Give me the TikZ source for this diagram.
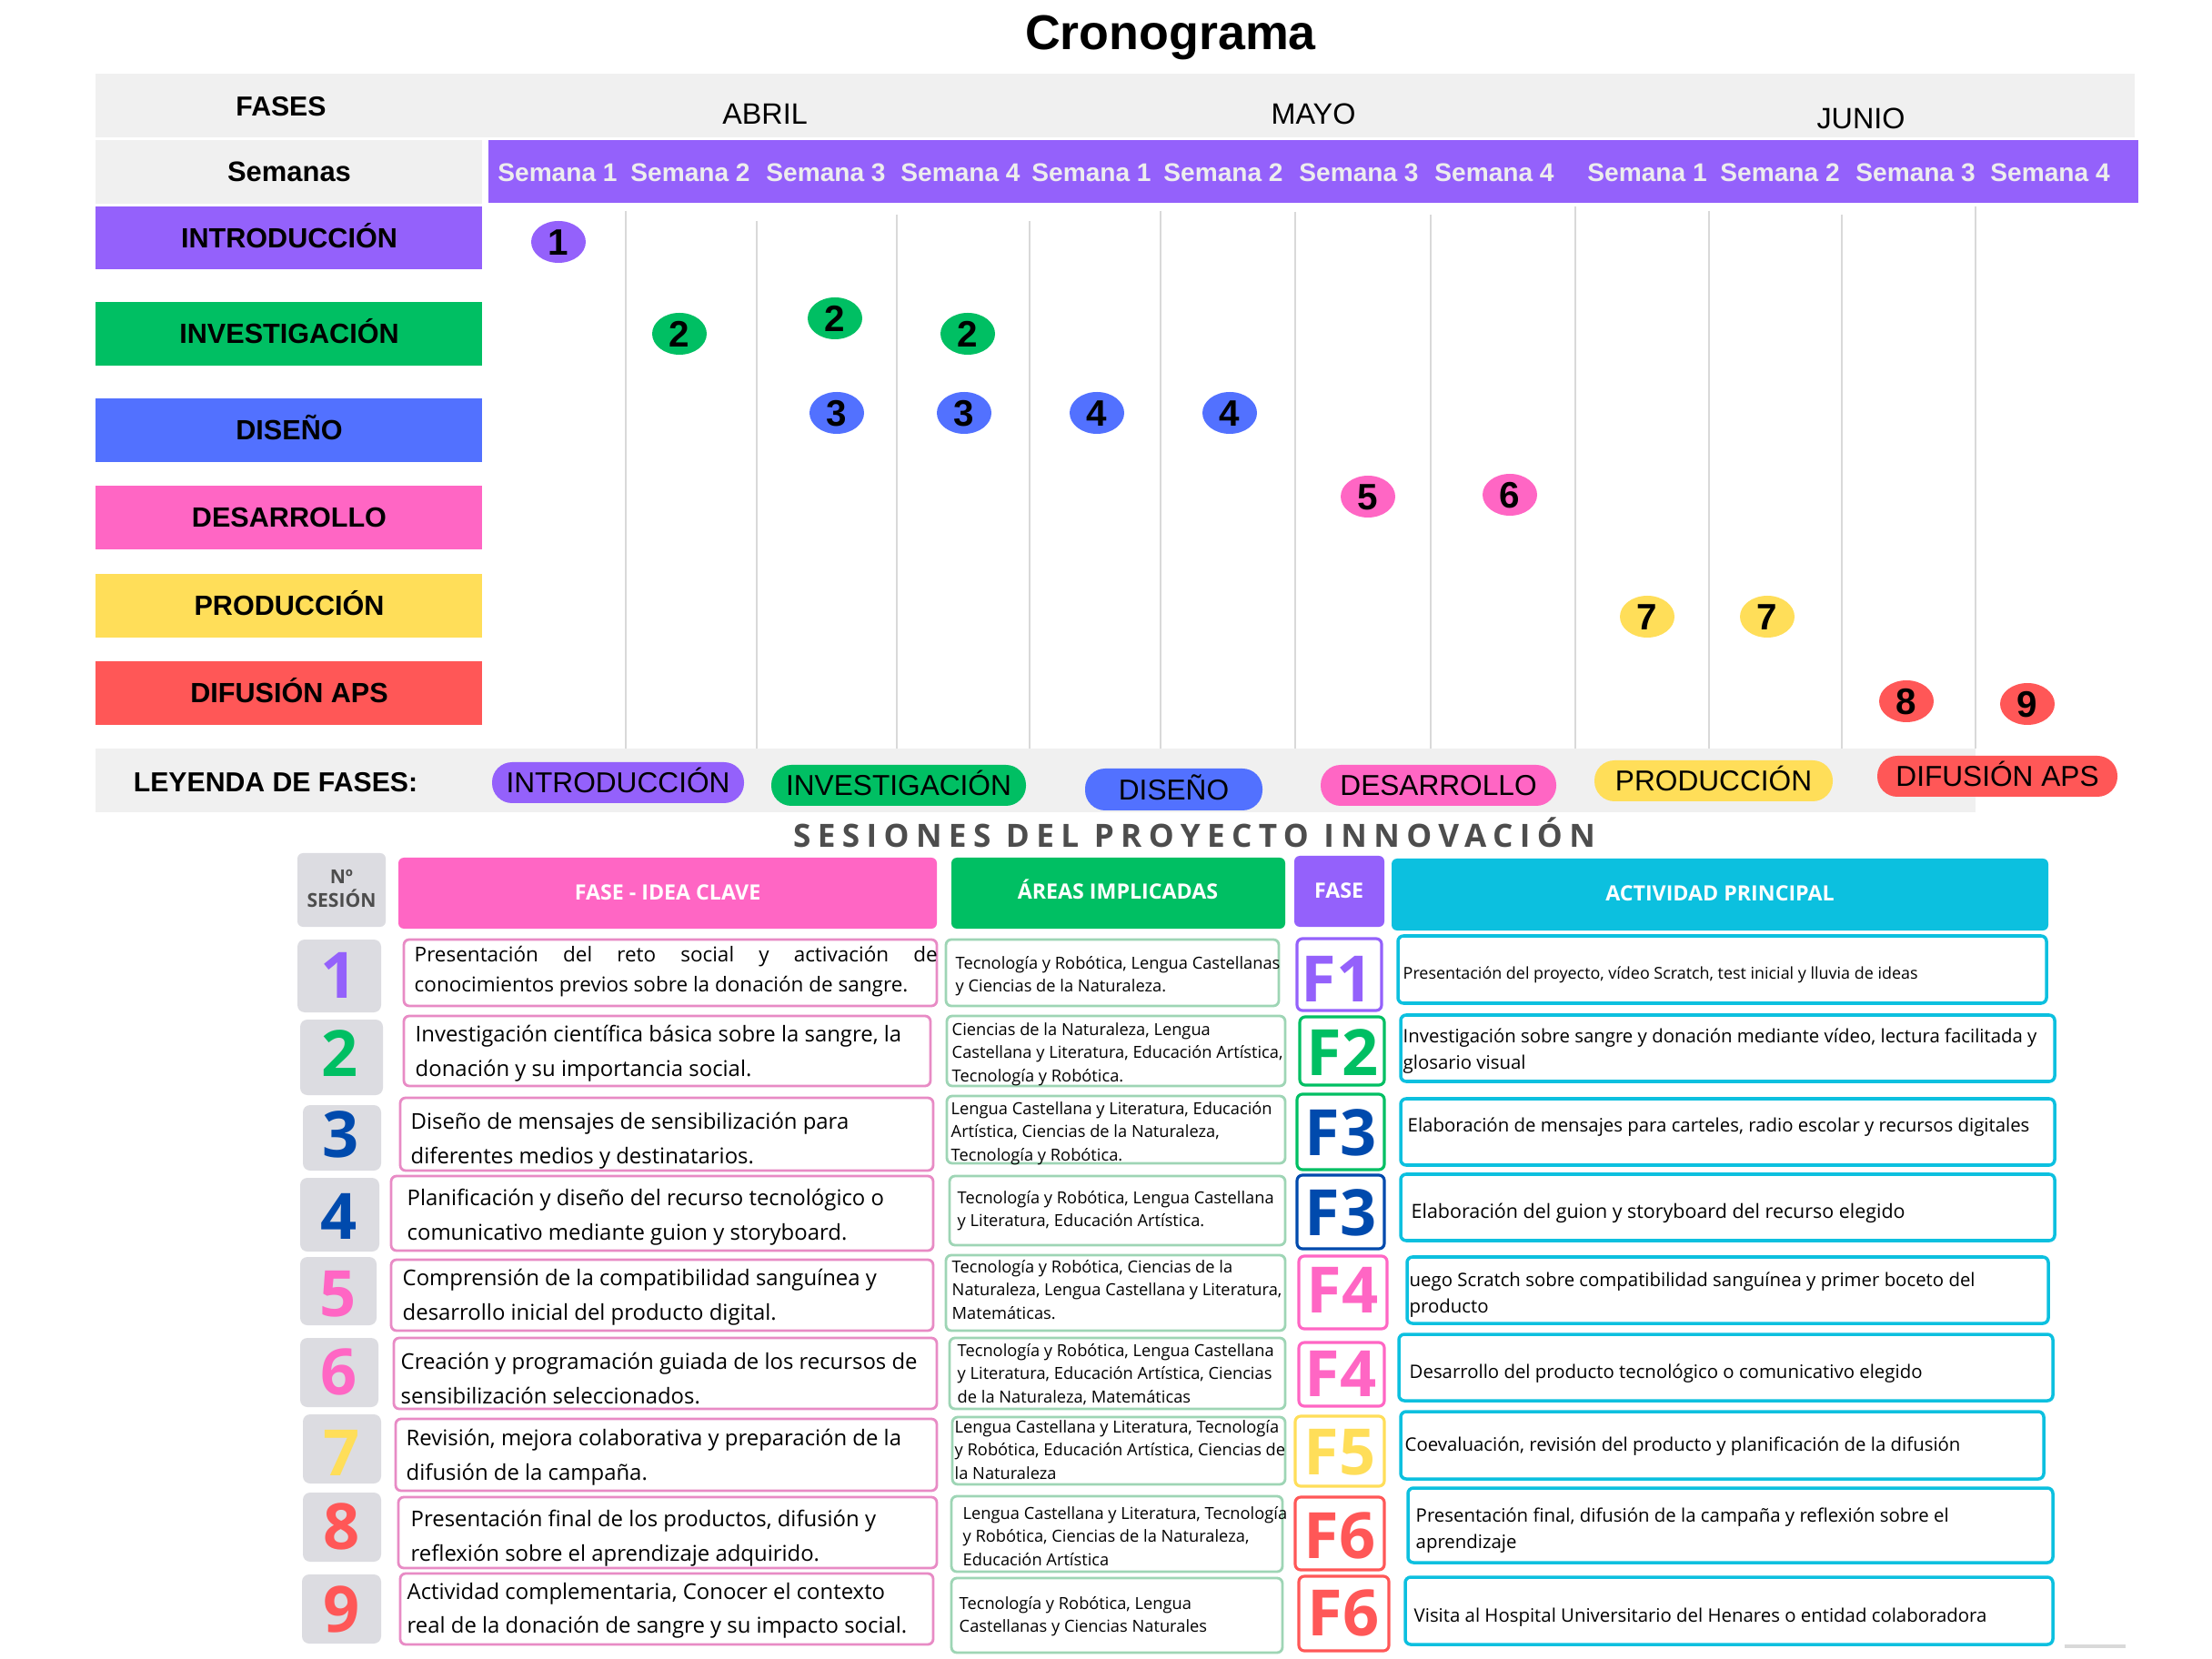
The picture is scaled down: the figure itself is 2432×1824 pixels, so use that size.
\documentclass[tikz,border=0pt]{standalone}
\usepackage{fontspec}
\usepackage{tikz}
\usetikzlibrary{shapes.geometric, positioning}
\newfontfamily\arialfont{Liberation Sans}
\newfontfamily\osfont{Open Sans}
\newfontfamily\osspaced[LetterSpace=21]{Open Sans}
\definecolor{fasepurple}{HTML}{9461FB}
\definecolor{fasegreen}{HTML}{00BF63}
\definecolor{faseblue}{HTML}{5271FF}
\definecolor{fasepink}{HTML}{FF66C4}
\definecolor{faseyellow}{HTML}{FFDE59}
\definecolor{fasered}{HTML}{FF5757}
\definecolor{darkblue}{HTML}{004AAD}
\definecolor{cyanhead}{HTML}{0CC0DF}
\definecolor{bandgray}{HTML}{F0F0F0}
\definecolor{gridgray}{HTML}{D9D9D9}
\definecolor{numgray}{HTML}{DCDCE1}
\definecolor{ideaborder}{HTML}{E88BC5}
\definecolor{areaborder}{HTML}{9ED5B5}
\definecolor{semtext}{HTML}{EDEDED}
\definecolor{titlegray}{HTML}{4D4D4D}
\tikzset{
  bandlabel/.style={font=\arialfont\bfseries\fontsize{8.6}{10}\selectfont, text height=6.2pt, text depth=0pt, inner sep=0pt},
  monthlabel/.style={font=\arialfont\fontsize{9.2}{11}\selectfont, text height=6.6pt, text depth=0pt, inner sep=0pt},
  weeklabel/.style={font=\arialfont\bfseries\fontsize{8}{10}\selectfont, text=semtext, text height=5.7pt, text depth=0pt, inner sep=0pt},
  phaselabel/.style={font=\arialfont\bfseries\fontsize{8.7}{10}\selectfont, text height=6.2pt, text depth=0pt, inner sep=0pt},
  badge/.style={ellipse, minimum width=6mm, minimum height=4.6mm, inner sep=0pt, font=\arialfont\bfseries\fontsize{11.5}{13}\selectfont, text height=8.2pt, text depth=0pt},
  pill/.style={rounded corners=2.2mm},
  pilllabel/.style={font=\arialfont\fontsize{9}{11}\selectfont, text height=6.4pt, text depth=0pt, inner sep=0pt},
  headbox/.style={rounded corners=0.6mm},
  headlabel/.style={font=\osfont\bfseries\fontsize{6.6}{8}\selectfont, text=white, text height=4.7pt, text depth=0pt, inner sep=0pt},
  numbox/.style={fill=numgray, rounded corners=0.8mm},
  numlabel/.style={font=\osfont\bfseries\fontsize{20}{24}\selectfont, text height=14.3pt, text depth=0pt, inner sep=0pt},
  ideabox/.style={draw=ideaborder, line width=0.8pt, fill=white, rounded corners=0.6mm},
  ideatext/.style={font=\osfont\fontsize{6.8}{10.7}\selectfont, align=left, anchor=north west, inner sep=0pt, execute at begin node=\strut},
  areabox/.style={draw=areaborder, line width=0.8pt, fill=white, rounded corners=0.6mm},
  areatext/.style={font=\osfont\fontsize{5.2}{7.25}\selectfont, align=left, anchor=north west, inner sep=0pt, execute at begin node=\strut},
  fasebox/.style={line width=0.9pt, fill=white, rounded corners=0.6mm},
  actbox/.style={draw=cyanhead, line width=1pt, fill=white, rounded corners=0.6mm},
  acttext/.style={font=\osfont\fontsize{5.8}{8.4}\selectfont, align=left, anchor=north west, inner sep=0pt, execute at begin node=\strut},
}

\begin{document}
\begin{tikzpicture}[x=0.1mm, y=-0.1mm]
    \fill[white] (0,0) rectangle (2432,1824);
    \useasboundingbox (0,0) rectangle (2432,1824);
    % Title
    \node[font=\arialfont\bfseries\fontsize{15.3}{18}\selectfont, anchor=base, inner sep=0pt] (titulo) at (1287,55) {Cronograma};
    % Months
    \fill[bandgray] (105,81) rectangle (2347,151);
    \node[bandlabel] (fases) at (309,117) {FASES};
    \node[monthlabel] (abril) at (841,125) {ABRIL};
    \node[monthlabel] (mayo) at (1444,125) {MAYO};
    \node[monthlabel] (junio) at (2046,130) {JUNIO};
    % Weeks
    \fill[bandgray] (105,154) rectangle (530,224);
    \node[bandlabel, font=\arialfont\bfseries\fontsize{8.8}{10}\selectfont] (semanas) at (318,189) {Semanas};
    \fill[fasepurple] (537,154) rectangle (2351,223);
    \foreach \wx/\wn [count=\i] in {613/1, 759/2, 908/3, 1056/4, 1200/1, 1345/2, 1494/3, 1643/4, 1811/1, 1957/2, 2106/3, 2254/4}
        \node[weeklabel] (sem\i) at (\wx,189) {Semana \wn};
    % Grid
    \foreach \gx/\gtop in {688/232, 832/243, 986/236, 1132/243, 1276/232, 1424/233, 1573/236, 1732/227, 1879/232, 2025/236, 2172/227}
        \draw[gridgray, line width=0.6pt] (\gx,\gtop) -- (\gx,823);
    % Phases
    \fill[fasepurple] (105,227) rectangle (530,296);
    \node[phaselabel] (fintro) at (318,262) {INTRODUCCIÓN};
    \fill[fasegreen] (105,332) rectangle (530,402);
    \node[phaselabel] (finves) at (318,367) {INVESTIGACIÓN};
    \fill[faseblue] (105,438) rectangle (530,508);
    \node[phaselabel] (fdiseno) at (318,473) {DISEÑO};
    \fill[fasepink] (105,534) rectangle (530,604);
    \node[phaselabel] (fdesarrollo) at (318,569) {DESARROLLO};
    \fill[faseyellow] (105,631) rectangle (530,701);
    \node[phaselabel] (fproduccion) at (318,666) {PRODUCCIÓN};
    \fill[fasered] (105,727) rectangle (530,797);
    \node[phaselabel] (fdifusion) at (318,762) {DIFUSIÓN APS};
    % Sessions
    \foreach \bx/\by/\bc/\bn [count=\i] in {614/266/fasepurple/1, 747/367/fasegreen/2, 918/350/fasegreen/2, 1064/367/fasegreen/2, 920/454/faseblue/3, 1060/454/faseblue/3, 1206/454/faseblue/4, 1352/454/faseblue/4, 1504/546/fasepink/5, 1660/544/fasepink/6, 1811/678/faseyellow/7, 1943/678/faseyellow/7, 2096/771/fasered/8, 2229/774/fasered/9}
        \node[badge, fill=\bc] (badge\i) at (\bx,\by) {\bn};
    % Legend
    \fill[bandgray] (105,823) rectangle (2172,893);
    \node[bandlabel] (leyenda) at (303,860) {LEYENDA DE FASES:};
    \fill[fasepurple, pill] (541,838) rectangle (818,883);
    \node[pilllabel] (lintro) at (679.5,860.5) {INTRODUCCIÓN};
    \fill[fasegreen, pill] (848,841) rectangle (1128,886);
    \node[pilllabel] (linves) at (988,863.5) {INVESTIGACIÓN};
    \fill[faseblue, pill] (1193,845) rectangle (1388,891);
    \node[pilllabel] (ldiseno) at (1290.5,868) {DISEÑO};
    \fill[fasepink, pill] (1452,841) rectangle (1711,886);
    \node[pilllabel] (ldesarrollo) at (1581.5,863.5) {DESARROLLO};
    \fill[faseyellow, pill] (1753,836) rectangle (2015,881);
    \node[pilllabel] (lproduccion) at (1884,858.5) {PRODUCCIÓN};
    \fill[fasered, pill] (2064,831) rectangle (2328,876);
    \node[pilllabel] (ldifusion) at (2196,853.5) {DIFUSIÓN APS};

    % Table title
    \node[font=\osspaced\bfseries\fontsize{10}{12}\selectfont, text=titlegray, text height=7.1pt, text depth=0pt, inner sep=0pt] (sesiones) at (1313,919) {SESIONES DEL PROYECTO INNOVACIÓN};
    % Header
    \fill[numgray, headbox] (327,938) rectangle (424,1019);
    \node[font=\osfont\bfseries\fontsize{6}{7.4}\selectfont, text=titlegray, align=center, anchor=north, inner sep=0pt, execute at begin node=\strut] (hnum) at (375.5,956) {Nº\\SESIÓN};
    \fill[fasepink, headbox] (438,943) rectangle (1030,1021);
    \node[headlabel] (hidea) at (734,981) {FASE - IDEA CLAVE};
    \fill[fasegreen, headbox] (1046,943) rectangle (1413,1021);
    \node[headlabel] (hareas) at (1229,980) {ÁREAS IMPLICADAS};
    \fill[fasepurple, headbox] (1423,941) rectangle (1522,1019);
    \node[headlabel] (hfase) at (1472,979) {FASE};
    \fill[cyanhead, headbox] (1530,944) rectangle (2252,1023);
    \node[headlabel] (hact) at (1891,982) {ACTIVIDAD PRINCIPAL};

    % Sesion 1
    \fill[numbox] (327,1033) rectangle (419,1113);
    \node[numlabel, text=fasepurple] (n1) at (373,1072) {1};
    \draw[ideabox] (444,1033) rectangle (1030,1106);
    \node[ideatext, font=\osfont\fontsize{6.4}{9.4}\selectfont] (idea1) at (455,1040) {\makebox[57.5mm][s]{Presentación del reto social y activación de}\\conocimientos previos sobre la donación de sangre.};
    \draw[areabox] (1040,1033) rectangle (1406,1106);
    \node[areatext] (area1) at (1050,1050.5) {Tecnología y Robótica, Lengua Castellanas\\y Ciencias de la Naturaleza.};
    \draw[fasebox, draw=fasepurple] (1426,1032) rectangle (1519,1111);
    \node[numlabel, text=fasepurple] (f1) at (1470,1076) {F1};
    \draw[actbox] (1537,1029) rectangle (2250,1103);
    \node[acttext, font=\osfont\fontsize{5.1}{8.25}\selectfont] (act1) at (1542,1055) {Presentación del proyecto, vídeo Scratch, test inicial y lluvia de ideas};

    % Sesion 2
    \fill[numbox] (330,1121) rectangle (421,1204);
    \node[numlabel, text=fasegreen] (n2) at (374,1158) {2};
    \draw[ideabox] (444,1117) rectangle (1023,1194);
    \node[ideatext] (idea2) at (456,1126.5) {Investigación científica básica sobre la sangre, la\\donación y su importancia social.};
    \draw[areabox] (1041,1117) rectangle (1413,1194);
    \node[areatext] (area2) at (1046,1123.5) {Ciencias de la Naturaleza, Lengua\\Castellana y Literatura, Educación Artística,\\Tecnología y Robótica.};
    \draw[fasebox, draw=fasegreen] (1429,1118) rectangle (1522,1193);
    \node[numlabel, text=fasegreen] (f2) at (1476,1157) {F2};
    \draw[actbox] (1540,1116) rectangle (2259,1189);
    \node[acttext] (act2) at (1542,1130) {Investigación sobre sangre y donación mediante vídeo, lectura facilitada y\\glosario visual};

    % Sesion 3
    \fill[numbox] (333,1215) rectangle (419,1287);
    \node[numlabel, text=darkblue] (n3) at (375,1247) {3};
    \draw[ideabox] (440,1207) rectangle (1026,1287);
    \node[ideatext] (idea3) at (451,1222.5) {Diseño de mensajes de sensibilización para\\diferentes medios y destinatarios.};
    \draw[areabox] (1041,1205) rectangle (1413,1279);
    \node[areatext] (area3) at (1045,1210.5) {Lengua Castellana y Literatura, Educación\\Artística, Ciencias de la Naturaleza,\\Tecnología y Robótica.};
    \draw[fasebox, draw=fasegreen] (1426,1203) rectangle (1522,1286);
    \node[numlabel, text=darkblue] (f3) at (1474,1245) {F3};
    \draw[actbox] (1540,1208) rectangle (2259,1281);
    \node[acttext] (act3) at (1547,1223) {Elaboración de mensajes para carteles, radio escolar y recursos digitales};

    % Sesion 4
    \fill[numbox] (330,1295) rectangle (417,1376);
    \node[numlabel, text=darkblue] (n4) at (373,1337) {4};
    \draw[ideabox] (430,1293) rectangle (1026,1375);
    \node[ideatext] (idea4) at (447,1306.5) {Planificación y diseño del recurso tecnológico o\\comunicativo mediante guion y storyboard.};
    \draw[areabox] (1044,1293) rectangle (1413,1369);
    \node[areatext] (area4) at (1052,1308.5) {Tecnología y Robótica, Lengua Castellana\\y Literatura, Educación Artística.};
    \draw[fasebox, draw=darkblue] (1426,1292) rectangle (1522,1373);
    \node[numlabel, text=darkblue] (f4) at (1474,1333) {F3};
    \draw[actbox] (1540,1291) rectangle (2259,1364);
    \node[acttext, font=\osfont\fontsize{6.1}{8.4}\selectfont] (act4) at (1551,1318) {Elaboración del guion y storyboard del recurso elegido};

    % Sesion 5
    \fill[numbox] (330,1382) rectangle (414,1457);
    \node[numlabel, text=fasepink] (n5) at (372,1422) {5};
    \draw[ideabox] (430,1385) rectangle (1026,1463);
    \node[ideatext] (idea5) at (442,1394.5) {Comprensión de la compatibilidad sanguínea y\\desarrollo inicial del producto digital.};
    \draw[areabox] (1040,1380) rectangle (1413,1463);
    \node[areatext] (area5) at (1046,1384.5) {Tecnología y Robótica, Ciencias de la\\Naturaleza, Lengua Castellana y Literatura,\\Matemáticas.};
    \draw[fasebox, draw=fasepink] (1428,1381) rectangle (1525,1461);
    \node[numlabel, text=fasepink] (f5) at (1476,1418) {F4};
    \draw[actbox] (1547,1382) rectangle (2252,1455);
    \node[acttext] (act5) at (1549,1398) {uego Scratch sobre compatibilidad sanguínea y primer boceto del\\producto};

    % Sesion 6
    \fill[numbox] (330,1471) rectangle (416,1547);
    \node[numlabel, text=fasepink] (n6) at (373,1508) {6};
    \draw[ideabox] (433,1471) rectangle (1030,1549);
    \node[ideatext] (idea6) at (440,1486.5) {Creación y programación guiada de los recursos de\\sensibilización seleccionados.};
    \draw[areabox] (1044,1471) rectangle (1413,1549);
    \node[areatext] (area6) at (1052,1476.5) {Tecnología y Robótica, Lengua Castellana\\y Literatura, Educación Artística, Ciencias\\de la Naturaleza, Matemáticas};
    \draw[fasebox, draw=fasepink] (1428,1476) rectangle (1522,1546);
    \node[numlabel, text=fasepink] (f6) at (1474,1510) {F4};
    \draw[actbox] (1538,1467) rectangle (2257,1540);
    \node[acttext] (act6) at (1549,1494) {Desarrollo del producto tecnológico o comunicativo elegido};

    % Sesion 7
    \fill[numbox] (333,1555) rectangle (419,1631);
    \node[numlabel, text=faseyellow] (n7) at (376,1597) {7};
    \draw[ideabox] (435,1560) rectangle (1030,1639);
    \node[ideatext] (idea7) at (446,1570.5) {Revisión, mejora colaborativa y preparación de la\\difusión de la campaña.};
    \draw[areabox] (1047,1558) rectangle (1413,1632);
    \node[areatext] (area7) at (1049,1560.5) {Lengua Castellana y Literatura, Tecnología\\y Robótica, Educación Artística, Ciencias de\\la Naturaleza};
    \draw[fasebox, draw=faseyellow] (1424,1557) rectangle (1522,1634);
    \node[numlabel, text=faseyellow] (f7) at (1473,1596) {F5};
    \draw[actbox] (1540,1552) rectangle (2247,1626);
    \node[acttext] (act7) at (1544,1574) {Coevaluación, revisión del producto y planificación de la difusión};

    % Sesion 8
    \fill[numbox] (333,1641) rectangle (419,1717);
    \node[numlabel, text=fasered] (n8) at (376,1678) {8};
    \draw[ideabox] (438,1646) rectangle (1030,1724);
    \node[ideatext] (idea8) at (451,1659.5) {Presentación final de los productos, difusión y\\reflexión sobre el aprendizaje adquirido.};
    \draw[areabox] (1046,1645) rectangle (1410,1728);
    \node[areatext] (area8) at (1058,1655.5) {Lengua Castellana y Literatura, Tecnología\\y Robótica, Ciencias de la Naturaleza,\\Educación Artística};
    \draw[fasebox, draw=fasered] (1424,1646) rectangle (1522,1726);
    \node[numlabel, text=fasered] (f8) at (1473,1688) {F6};
    \draw[actbox] (1548,1636) rectangle (2257,1718);
    \node[acttext] (act8) at (1556,1657) {Presentación final, difusión de la campaña y reflexión sobre el\\aprendizaje};

    % Sesion 9
    \fill[numbox] (332,1731) rectangle (419,1807);
    \node[numlabel, text=fasered] (n9) at (376,1769) {9};
    \draw[ideabox] (440,1730) rectangle (1026,1808);
    \node[ideatext] (idea9) at (447,1739.5) {Actividad complementaria, Conocer el contexto\\real de la donación de sangre y su impacto social.};
    \draw[areabox] (1046,1735) rectangle (1410,1817);
    \node[areatext] (area9) at (1054,1754.5) {Tecnología y Robótica, Lengua\\Castellanas y Ciencias Naturales};
    \draw[fasebox, draw=fasered] (1428,1733) rectangle (1527,1815);
    \node[numlabel, text=fasered] (f9) at (1477,1773) {F6};
    \draw[actbox] (1545,1734) rectangle (2257,1808);
    \node[acttext] (act9) at (1554,1762) {Visita al Hospital Universitario del Henares o entidad colaboradora};

    \draw[gridgray, line width=0.9pt] (2270,1810) -- (2337,1810);
\end{tikzpicture}
\end{document}
